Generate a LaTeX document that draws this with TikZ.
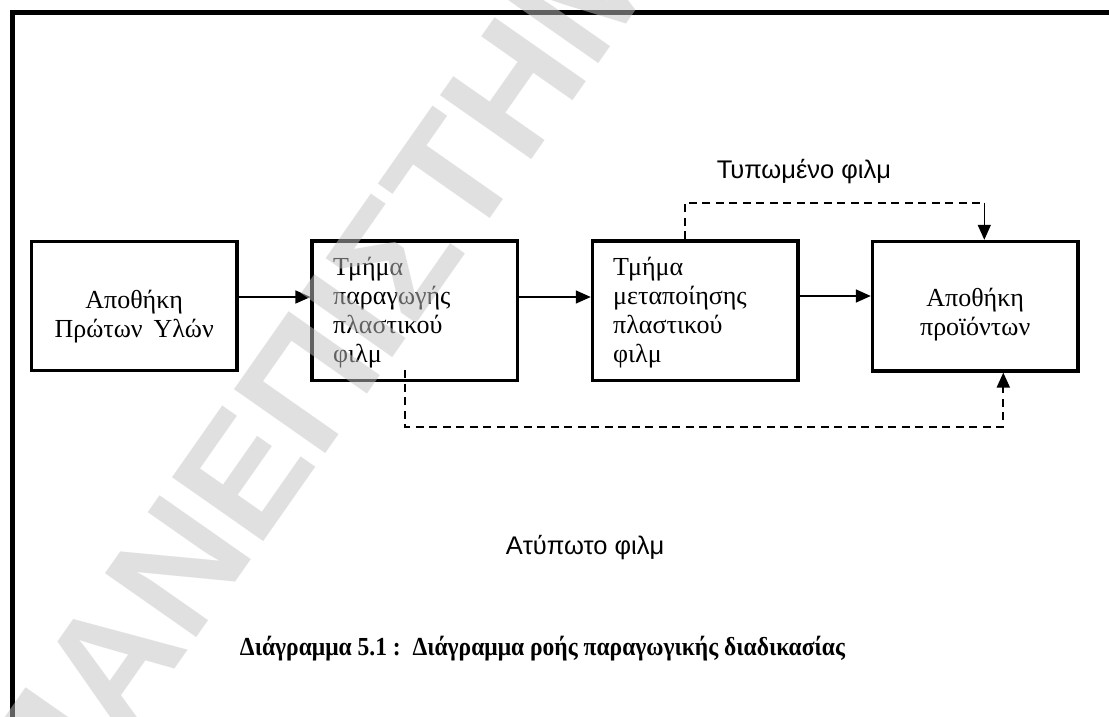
\documentclass[tikz,border=0pt]{standalone}
\usepackage{graphicx}
\usepackage{fontspec}
\setmainfont{Liberation Serif}
\newfontfamily\arialf{Liberation Sans}
\usetikzlibrary{arrows.meta}
\definecolor{wmgray}{RGB}{195,195,195}
\begin{document}
\begin{tikzpicture}[x=1pt,y=-1pt,
  box/.style={draw, line width=3.3pt, minimum width=205.5pt, inner sep=0pt},
  boxtxt/.style={inner sep=0pt, font=\fontsize{26}{29}\selectfont},
  lab/.style={inner sep=0pt, font=\arialf\fontsize{25.5}{30}\selectfont},
  arr/.style={line width=1.6pt, -{Triangle[length=15pt,width=13pt]}},
  dashln/.style={line width=2pt, dash pattern=on 8pt off 5.5pt},
  wm/.style={inner sep=0pt, text=wmgray, text opacity=0.5, font=\arialf\bfseries\fontsize{162}{162}\selectfont}
]
\useasboundingbox (0,0) rectangle (1109,717);
\clip (0,0) rectangle (1109,717);
\fill[white] (0,0) rectangle (1109,717);
% outer frame
\draw[line width=5pt] (12,740) -- (12,13) -- (1130,13);
% boxes
\node[box, minimum height=129.5pt] (b1) at (134.2,306) {};
\node[box, minimum height=139.7pt] (b2) at (414.85,310.85) {};
\node[box, minimum height=139.7pt] (b3) at (695.15,310.85) {};
\node[box, minimum height=129.5pt] (b4) at (975.2,306.2) {};
% box texts
\node[boxtxt, anchor=base] (t1) at (134.2,308) {\begin{tabular}[t]{@{}c@{}}Αποθήκη\\Πρώτων\ \,Υλών\end{tabular}};
\node[boxtxt, anchor=base west] (t2) at (333,275) {\begin{tabular}[t]{@{}l@{}}Τμήμα\\παραγωγής\\πλαστικού\\φιλμ\end{tabular}};
\node[boxtxt, anchor=base west] (t3) at (613,275) {\begin{tabular}[t]{@{}l@{}}Τμήμα\\μεταποίησης\\πλαστικού\\φιλμ\end{tabular}};
\node[boxtxt, anchor=base] (t4) at (975.2,306) {\begin{tabular}[t]{@{}c@{}}Αποθήκη\\προϊόντων\end{tabular}};
% main flow
\draw[arr] ([yshift=9pt]b1.east) -- ([yshift=13.85pt]b2.west);
\draw[arr] ([yshift=13.85pt]b2.east) -- ([yshift=13.85pt]b3.west);
\draw[arr] ([yshift=14.85pt]b3.east) -- ([yshift=10.2pt]b4.west);
% printed film
\coordinate (c1) at (984.3,202.7);
\draw[dashln] ([xshift=-10.15pt]b3.north) |- (c1);
\draw[arr] (c1) -- (c1 |- b4.north);
% unprinted film
\coordinate (c2) at (1003.3,427);
\draw[dashln, -{Triangle[length=15pt,width=13pt]}] ([xshift=-9.85pt,yshift=12pt]b2.south) |- (c2) -- (c2 |- b4.south);
% labels
\node[lab] (l1) at (804,172) {Τυπωμένο φιλμ};
\node[lab] (l2) at (585,548) {Ατύπωτο φιλμ};
\node[inner sep=0pt, font=\bfseries\fontsize{26}{30}\selectfont] (cap) at (542.5,649) {\resizebox{605pt}{\height}{Διάγραμμα 5.1 :~~Διάγραμμα ροής παραγωγικής διαδικασίας}};
% watermark
\node[wm, rotate=55, anchor=base west] (wmk) at (56.3,838.3) {ΠΑΝΕΠΙΣΤΗΜΙΟ};
\end{tikzpicture}
\end{document}
